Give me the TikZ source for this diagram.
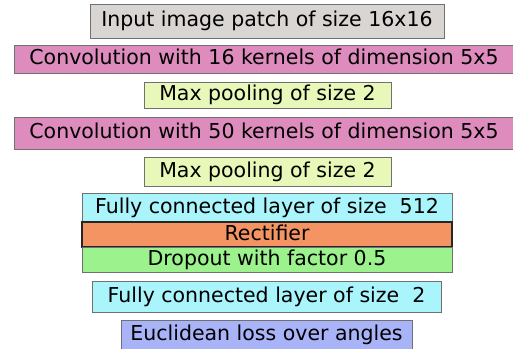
\documentclass[tikz,border=0pt]{standalone}
\usepackage{fontspec}
\setmainfont{DejaVu Sans}
\definecolor{cgray}{HTML}{D9D5D3}
\definecolor{cpink}{HTML}{DE8CBE}
\definecolor{cyel}{HTML}{E8F8B8}
\definecolor{ccyan}{HTML}{AAF4FC}
\definecolor{corange}{HTML}{F39462}
\definecolor{cgreen}{HTML}{9CF28C}
\definecolor{cblue}{HTML}{A9B3F8}
\definecolor{cedge}{HTML}{707070}
\tikzset{
  layer/.style={draw=cedge, line width=0.9pt, rectangle, inner sep=0pt, anchor=center,
    font=\fontsize{20.5}{24}\selectfont, text=black, text height=15pt, text depth=4pt},
}
\begin{document}
\begin{tikzpicture}[x=1pt,y=1pt]
\useasboundingbox (0,0) rectangle (513,-348);
\clip (0,0) rectangle (513,-348);
\node[layer, fill=cgray, minimum width=354, minimum height=34] (inp) at (267,-21) {Input image patch of size 16x16};
\node[layer, fill=cpink, minimum width=500, minimum height=28] (conv1) at (264,-59) {Convolution with 16 kernels of dimension 5x5};
\node[layer, fill=cyel, minimum width=247, minimum height=26] (pool1) at (267.5,-95) {Max pooling of size 2};
\node[layer, fill=cpink, minimum width=500, minimum height=32] (conv2) at (264,-133) {Convolution with 50 kernels of dimension 5x5};
\node[layer, fill=cyel, minimum width=247, minimum height=29] (pool2) at (267.5,-171.5) {Max pooling of size 2};
\node[layer, fill=ccyan, minimum width=370, minimum height=29] (fc1) at (267,-207.5) {Fully connected layer of size~~512};
\node[layer, fill=corange, draw=black!85, line width=1.3pt, minimum width=370, minimum height=25] (relu) at (267,-234.5) {Rectifier};
\node[layer, fill=cgreen, minimum width=370, minimum height=25] (drop) at (267,-259.5) {Dropout with factor 0.5};
\node[layer, fill=ccyan, minimum width=349, minimum height=31] (fc2) at (266.5,-296.5) {Fully connected layer of size~~2};
\node[layer, fill=cblue, minimum width=291, minimum height=29] (loss) at (266.5,-334.5) {Euclidean loss over angles};
\end{tikzpicture}
\end{document}
